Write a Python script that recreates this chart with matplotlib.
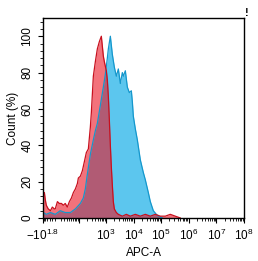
import numpy as np
import matplotlib
matplotlib.use('Agg')
import matplotlib.pyplot as plt
from matplotlib.ticker import FixedLocator, MultipleLocator

plt.rcParams['font.family'] = ['Liberation Sans', 'DejaVu Sans']
plt.rcParams['mathtext.fontset'] = 'custom'
plt.rcParams['mathtext.rm'] = 'Liberation Sans'
plt.rcParams['mathtext.it'] = 'Liberation Sans:italic'

# isotype control (red) - APC-A channel value vs count (%)
red_x = [-61, -55, -50, -45, -36, -27, -20, -13, -10, -3, 3, 10, 16, 23, 31, 40, 50, 61,
         74, 89, 97, 116, 138, 164, 194, 230, 272, 296, 350, 414, 489, 578, 683, 808,
         878, 1037, 1127, 1225, 1332, 1448, 1573, 1710, 1858, 2020, 2386, 2820, 3934,
         5494, 7665, 11630, 17630, 26750, 40590, 61560, 93380, 141700, 214900, 325900, 494400]
red_y = [14, 14, 10, 7, 5, 4, 6, 5, 5, 9, 8, 8, 7, 8, 6, 9, 11, 14,
         16, 19, 22, 23, 26, 31, 36, 38, 50, 58, 78, 86, 93, 97, 100, 89,
         86, 81, 76, 67, 54, 40, 28, 18, 9, 5, 3, 2, 1,
         2, 1, 2, 1, 2, 1, 2, 1, 1, 2, 1, 0]

# stained sample (blue)
blue_x = [-61, -45, -27, -10, 6, 23, 45, 74, 116, 150, 178, 211, 272, 350, 414, 489,
          629, 808, 954, 1127, 1225, 1448, 1710, 2020, 2386, 2820, 3331, 3934, 4277,
          5054, 5970, 7051, 8333, 9059, 9842, 11630, 13740, 17630, 22650, 26750,
          34350, 40590, 52100, 66900, 79040, 110300]
blue_y = [3, 2, 3, 2, 4, 3, 3, 5, 8, 11, 16, 24, 35, 43, 48, 52,
          62, 72, 79, 88, 93, 100, 90, 83, 78, 82, 74, 80, 78,
          81, 72, 69, 70, 64, 56, 49, 43, 32, 25, 21,
          14, 9, 4, 2, 1, 0]

major_ticks = [-10**1.8, 100, 1e3, 1e4, 1e5, 1e6, 1e7, 1e8]
major_labels = [r'$-10^{1.8}$', '', r'$10^3$', r'$10^4$', r'$10^5$', r'$10^6$', r'$10^7$', r'$10^8$']

c = 38.0
fig = plt.figure(figsize=(2.58, 2.61), dpi=100)
ax = fig.add_axes([0.1667, 0.1648, 0.779, 0.766])
ax.set_xscale('function', functions=(lambda v: np.arcsinh(np.asarray(v) / c),
                                     lambda v: c * np.sinh(np.asarray(v))))

ax.fill_between(blue_x, blue_y, color='#5cc6ee', lw=0)
ax.plot(blue_x, blue_y, color='#1597cc', lw=0.9)
ax.fill_between(red_x, red_y, color='#eb1423', alpha=0.6, lw=0)
ax.plot(red_x, red_y, color='#c8101e', lw=0.9)

ax.set_xlim(-10**1.8, 1e8)
ax.set_ylim(0, 110)

minors = [-v for v in range(10, 70, 10)] + list(range(10, 100, 10))
for d in range(2, 8):
    minors += [m * 10**d for m in range(2, 10)]
ax.xaxis.set_major_locator(FixedLocator(major_ticks))
ax.set_xticklabels(major_labels)
ax.xaxis.set_minor_locator(FixedLocator(minors))
ax.yaxis.set_major_locator(FixedLocator([0, 20, 40, 60, 80, 100]))
ax.yaxis.set_minor_locator(MultipleLocator(4))

ax.tick_params(axis='both', which='major', labelsize=8.5, length=3.5, width=0.8, color='black')
ax.tick_params(axis='both', which='minor', length=2, width=0.6)
for lab in ax.get_yticklabels():
    lab.set_rotation(90)
    lab.set_va('center')
for s in ax.spines.values():
    s.set_linewidth(1.0)

ax.set_xlabel('APC-A', fontsize=8.5, labelpad=3)
ax.set_ylabel('Count (%)', fontsize=8.5, labelpad=2)
fig.text(0.957, 0.952, '!', fontsize=8, fontweight='bold', ha='center', va='center')

fig.savefig('out.png', dpi=100)
